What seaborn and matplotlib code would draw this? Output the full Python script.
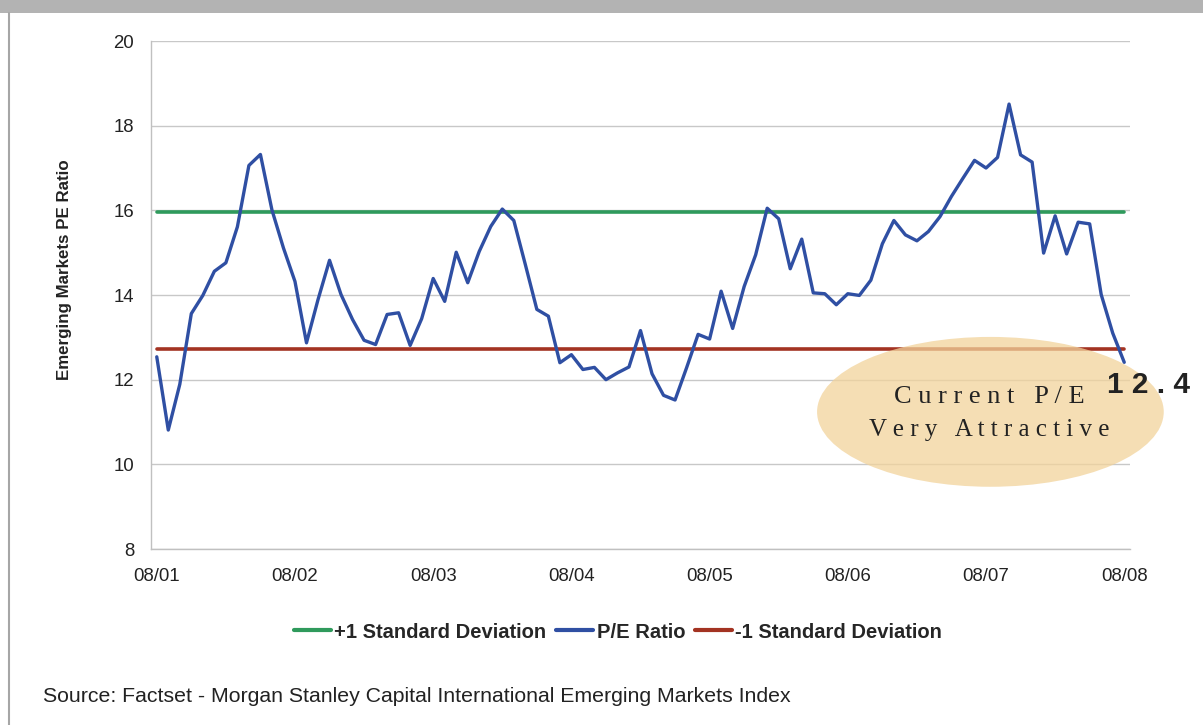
import numpy as np
import pandas as pd
import matplotlib
matplotlib.use("Agg")
import matplotlib.pyplot as plt
from matplotlib.patches import Ellipse, Rectangle
from matplotlib.lines import Line2D
import seaborn as sns

# --- Data: monthly MSCI EM P/E ratio, Aug 2001 - Aug 2008 ---
pe_ratio = [12.54, 10.81, 11.89, 13.56, 13.99, 14.56, 14.76, 15.61, 17.06, 17.32,
            16.01, 15.11, 14.32, 12.87, 13.89, 14.82, 14.01, 13.42, 12.93, 12.83,
            13.54, 13.58, 12.81, 13.44, 14.39, 13.85, 15.01, 14.29, 15.03, 15.62,
            16.03, 15.76, 14.72, 13.66, 13.50, 12.40, 12.59, 12.24, 12.29, 12.00,
            12.16, 12.30, 13.16, 12.14, 11.63, 11.52, 12.28, 13.07, 12.96, 14.09,
            13.21, 14.20, 14.95, 16.05, 15.80, 14.62, 15.32, 14.05, 14.03, 13.77,
            14.03, 13.99, 14.35, 15.21, 15.76, 15.42, 15.28, 15.50, 15.85, 16.33,
            16.76, 17.18, 17.00, 17.25, 18.51, 17.31, 17.14, 14.99, 15.87, 14.97,
            15.72, 15.68, 14.01, 13.10, 12.41]
plus_sd = 15.97
minus_sd = 12.72
current_pe = "12.4"
year_labels = ["08/01", "08/02", "08/03", "08/04", "08/05", "08/06", "08/07", "08/08"]
y_ticks = [8, 10, 12, 14, 16, 18, 20]

n = len(pe_ratio)
df = pd.DataFrame({"month": np.arange(n), "pe": pe_ratio,
                   "plus": [plus_sd] * n, "minus": [minus_sd] * n})

sns.set_theme(style="white")
plt.rcParams["font.family"] = ["Liberation Sans", "DejaVu Sans"]

green = "#2f9a5c"
blue = "#2f4fa3"
red = "#a33322"
text_col = "#222222"
serif = ["Liberation Serif", "DejaVu Serif"]

fig = plt.figure(figsize=(12.03, 7.25), dpi=100)
ax = fig.add_axes([151 / 1203, 176 / 725, 979 / 1203, 508 / 725])

sns.lineplot(data=df, x="month", y="plus", ax=ax, color=green, linewidth=2.6, zorder=3)
sns.lineplot(data=df, x="month", y="minus", ax=ax, color=red, linewidth=2.6, zorder=3)
sns.lineplot(data=df, x="month", y="pe", ax=ax, color=blue, linewidth=2.4, zorder=5)

# highlight bubble
ell = Ellipse((72.38, 11.24), 30.1, 3.54, facecolor="#f2d39b", alpha=0.75,
              edgecolor="none", zorder=4, clip_on=False)
ax.add_patch(ell)
ax.text(72.3, 11.59, "C u r r e n t   P / E", ha="center", va="center",
        fontsize=19, family=serif, color=text_col, zorder=6)
ax.text(72.3, 10.81, "V e r y   A t t r a c t i v e", ha="center", va="center",
        fontsize=18, family=serif, color=text_col, zorder=6)
ax.text(82.5, 11.88, " ".join(current_pe), ha="left", va="center",
        fontsize=21.5, fontweight="bold", color=text_col, zorder=6, clip_on=False)

ax.set_xlim(-0.5, 84.5)
ax.set_ylim(8, 20)
ax.set_yticks(y_ticks)
ax.set_xticks(np.arange(0, n, 12))
ax.set_xticklabels(year_labels)
ax.set_xlabel("")
ax.set_ylabel("")
ax.grid(axis="y", color="#c8c8c8", linewidth=1)
ax.grid(axis="x", visible=False)
for s in ["top", "right"]:
    ax.spines[s].set_visible(False)
for s in ["left", "bottom"]:
    ax.spines[s].set_color("#c0c0c0")
    ax.spines[s].set_linewidth(1)
ax.tick_params(axis="both", colors="#c0c0c0", labelcolor=text_col, labelsize=13.4,
               length=6, width=1, direction="out")
ax.tick_params(axis="y", pad=6)
ax.tick_params(axis="x", pad=8)

handles = [Line2D([], [], color=green, linewidth=3),
           Line2D([], [], color=blue, linewidth=3),
           Line2D([], [], color=red, linewidth=3)]
labels = ["+1 Standard Deviation", "P/E Ratio", "-1 Standard Deviation"]
fig.legend(handles, labels, loc="center", bbox_to_anchor=(618 / 1203, 1 - 632 / 725),
           ncol=3, frameon=False, handlelength=1.85, handletextpad=0.15,
           columnspacing=0.5, prop={"weight": "bold", "size": 14.5})

fig.text(65 / 1203, 1 - 270 / 725, "Emerging Markets PE Ratio", rotation=90,
         ha="center", va="center", fontsize=12.2, fontweight="bold", color=text_col)
fig.text(43 / 1203, 1 - 697 / 725,
         "Source: Factset - Morgan Stanley Capital International Emerging Markets Index",
         ha="left", va="center", fontsize=15.3, color=text_col)

# frame decorations: grey header band and left rule
fig.patches.append(Rectangle((0, 1 - 13 / 725), 1, 13 / 725, transform=fig.transFigure,
                             facecolor="#b3b3b3", edgecolor="none"))
fig.lines.append(Line2D([8.5 / 1203, 8.5 / 1203], [0, 1 - 13 / 725],
                        transform=fig.transFigure, color="#a6a6a6", linewidth=1.5))

fig.savefig("out.png", dpi=100)
